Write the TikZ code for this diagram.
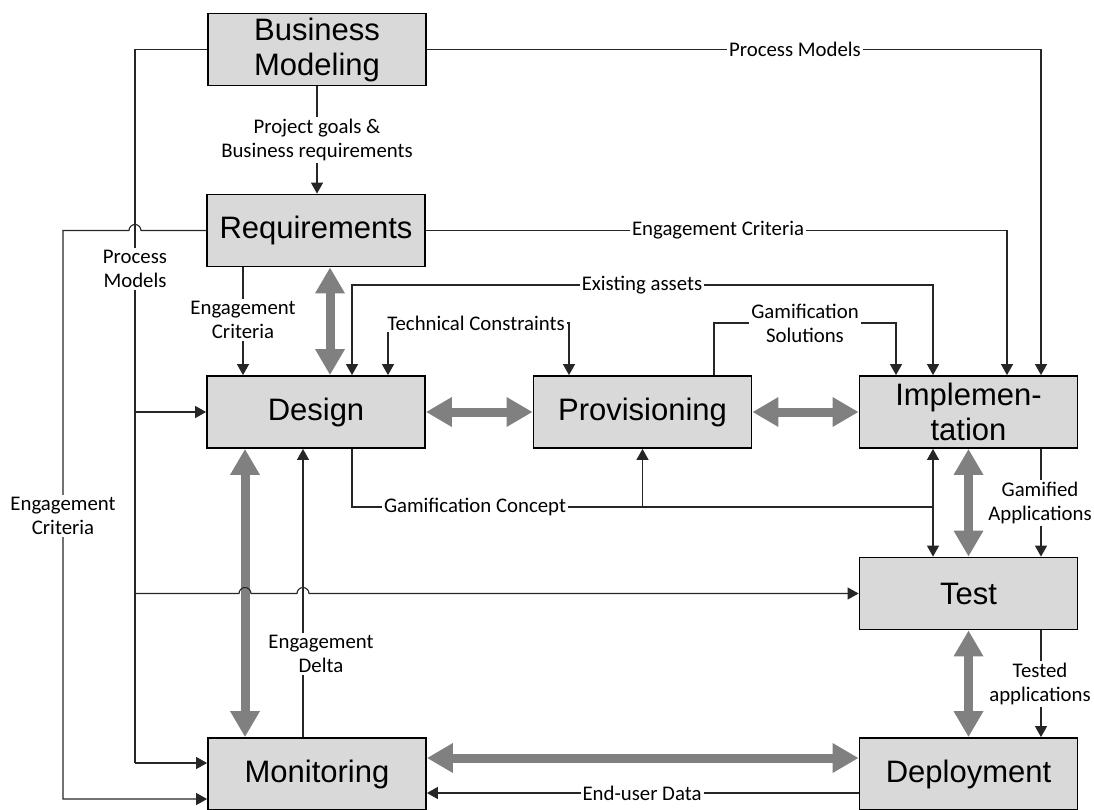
\documentclass[tikz,border=0pt]{standalone}
\usepackage{fontspec}
\setmainfont{Liberation Sans}
\newfontfamily\lblfont{Carlito}
\usetikzlibrary{arrows.meta}
\definecolor{boxgray}{RGB}{217,217,217}
\definecolor{flowgray}{RGB}{128,128,128}
\begin{document}
\begin{tikzpicture}[x=1pt,y=-1pt,
  box/.style={draw=black,line width=1.8pt,fill=boxgray,minimum width=218pt,minimum height=72pt,
              inner sep=0pt,align=center,font=\fontsize{31}{35}\selectfont},
  wire/.style={draw=black!85,line width=1.1pt},
  conn/.style={wire,-{Triangle[length=11pt,width=12pt]}},
  conn2/.style={wire,{Triangle[length=11pt,width=12pt]}-{Triangle[length=11pt,width=12pt]}},
  flow/.style={draw=flowgray,line width=9pt,{Triangle[length=26pt,width=28pt]}-{Triangle[length=26pt,width=28pt]}},
  lbl/.style={fill=white,inner sep=2pt,align=center,font=\lblfont\fontsize{20.8}{24}\selectfont}]

\useasboundingbox (0,0) rectangle (1094,809);

% process boxes
\node[box] (bm)  at (317,49.5)  {Business\\Modeling};
\node[box] (req) at (316,230.5) {Requirements};
\node[box] (des) at (316,412)   {Design};
\node[box] (pro) at (642.5,412) {Provisioning};
\node[box] (imp) at (968.5,412) {Implemen-\\tation};
\node[box] (tst) at (968.5,593.5) {Test};
\node[box] (dep) at (968.5,774) {Deployment};
\node[box] (mon) at (317,774)   {Monitoring};

% lanes on the left
\coordinate (laneA) at (135,763);
\coordinate (laneB) at (63,799);
\coordinate (hopA) at (135,230.5);

% main flow (thick grey double arrows)
\draw[flow] ([xshift=14pt]req.south) -- ([xshift=14pt]req.south |- des.north);
\draw[flow] (des.east) -- (pro.west);
\draw[flow] (pro.east) -- (imp.west);
\draw[flow] (imp.south) -- (tst.north);
\draw[flow] (tst.south) -- (dep.north);
\draw[flow] ([xshift=-71pt]des.south) -- ([xshift=-71pt]des.south |- mon.north);
\draw[flow] ([yshift=16pt]mon.east) -- ([yshift=16pt]mon.east -| dep.west);

% process models, left lane
\draw[wire] (bm.west) -| (laneA);
\draw[conn] (laneA) -- (laneA -| mon.west);
\draw[conn] (des.west -| laneA) -- (des.west);
\draw[conn] (tst.west -| laneA) -- (239,593.5) arc[start angle=180,end angle=0,radius=6pt]
            -- (297,593.5) arc[start angle=180,end angle=0,radius=6pt] -- (tst.west);

% engagement criteria, outer left lane
\draw[conn] (req.west) -- ([xshift=6pt]hopA) arc[start angle=0,end angle=180,radius=6pt]
            -- (hopA -| laneB) -- (laneB) -- (laneB -| mon.west);

% connections along the top
\draw[conn] (bm.east) -| ([xshift=72.5pt]imp.north);
\draw[conn] (req.east) -| ([xshift=38.5pt]imp.north);
\draw[conn] (bm.south) -- (bm.south |- req.north);
\draw[conn] ([xshift=-73pt]req.south) -- ([xshift=-73pt]req.south |- des.north);

\coordinate (ea) at (642,285);
\draw[conn2] ([xshift=36pt]des.north) |- (ea) -| ([xshift=-35.5pt]imp.north);
\coordinate (tc) at (476,323);
\draw[conn2] ([xshift=72pt]des.north) |- (tc) -| ([xshift=-73.5pt]pro.north);
\coordinate (gs) at (805,323);
\draw[conn] ([xshift=71.5pt]pro.north) |- (gs) -| ([xshift=-72.5pt]imp.north);

% gamification concept
\coordinate (gc) at (475,507);
\coordinate (gcJ) at (933,507);
\draw[wire] ([xshift=36pt]des.south) |- (gcJ);
\draw[conn] (gcJ) -- (gcJ |- imp.south);
\draw[conn] (gcJ) -- (gcJ |- tst.north);
\draw[conn] (pro.south |- gcJ) -- (pro.south);

% right column and bottom
\draw[conn] ([xshift=72.5pt]imp.south) -- ([xshift=72.5pt]tst.north);
\draw[conn] ([xshift=72.5pt]tst.south) -- ([xshift=72.5pt]dep.north);
\draw[conn] ([yshift=-19pt]dep.west) -- ([yshift=-19pt]dep.west -| mon.east);
\draw[conn] ([xshift=-14pt]mon.north) -- ([xshift=-14pt]mon.north |- des.south);

% connector labels
\node[lbl] at (795,49)   {Process Models};
\node[lbl] at (718,230.5) {Engagement Criteria};
\node[lbl] at (317,140)  {Project goals \&\\Business requirements};
\node[lbl] at (135,269)  {Process\\Models};
\node[lbl] at (243,320)  {Engagement\\Criteria};
\node[lbl] at (ea)       {Existing assets};
\node[lbl] at (tc)       {Technical Constraints};
\node[lbl] at (gs)       {Gamification\\Solutions};
\node[lbl] at (gc)       {Gamification Concept};
\node[lbl] at (63,516)   {Engagement\\Criteria};
\node[lbl] at (1040,503) {Gamified\\Applications};
\node[lbl] at (321,654)  {Engagement\\Delta};
\node[lbl] at (1040,684) {Tested\\applications};
\node[lbl] at (642,793)  {End-user Data};
\end{tikzpicture}
\end{document}
